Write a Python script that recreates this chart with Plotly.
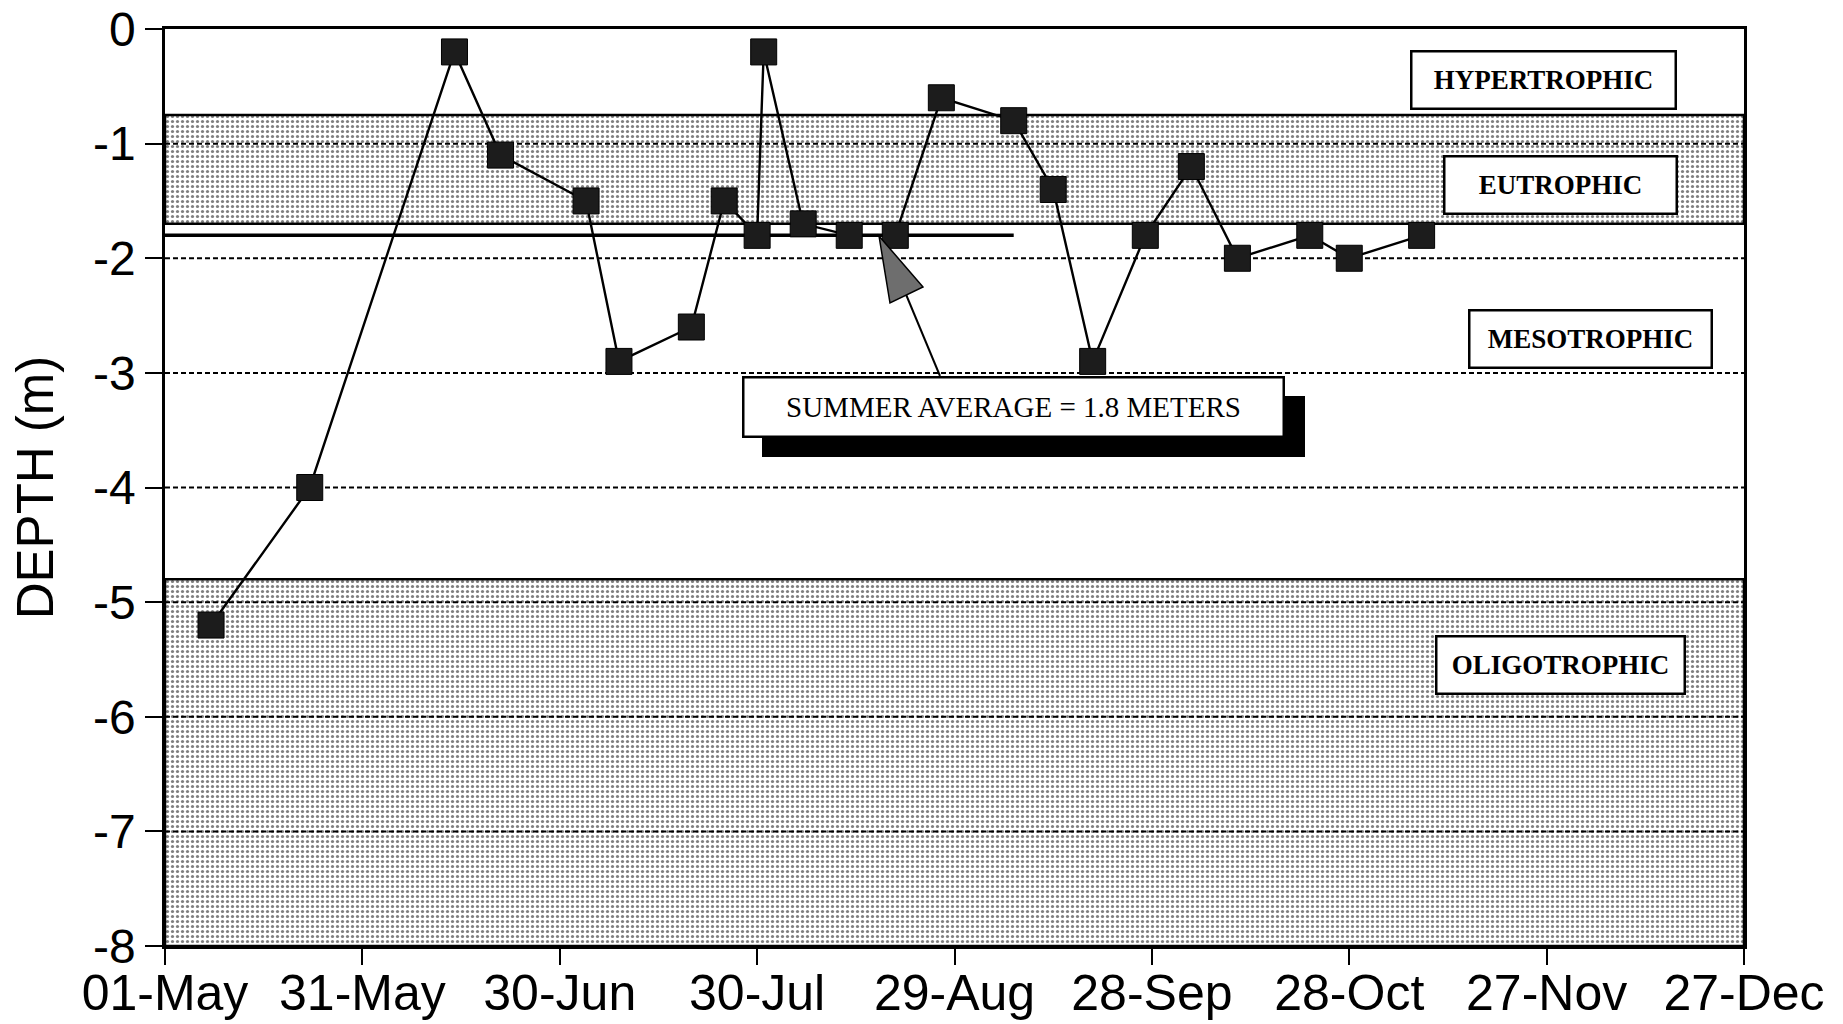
import plotly.graph_objects as go

# ---------------- data ----------------
dates = ["1990-05-08", "1990-05-23", "1990-06-14", "1990-06-21", "1990-07-04",
         "1990-07-09", "1990-07-20", "1990-07-25", "1990-07-30", "1990-07-31",
         "1990-08-06", "1990-08-13", "1990-08-20", "1990-08-27", "1990-09-07",
         "1990-09-13", "1990-09-19", "1990-09-27", "1990-10-04", "1990-10-11",
         "1990-10-22", "1990-10-28", "1990-11-08"]
depths = [-5.2, -4.0, -0.2, -1.1, -1.5,
          -2.9, -2.6, -1.5, -1.8, -0.2,
          -1.7, -1.8, -1.8, -0.6, -0.8,
          -1.4, -2.9, -1.8, -1.2, -2.0,
          -1.8, -2.0, -1.8]

x_range = ["1990-05-01", "1990-12-27"]
x_tickvals = ["1990-05-01", "1990-05-31", "1990-06-30", "1990-07-30", "1990-08-29",
              "1990-09-28", "1990-10-28", "1990-11-27", "1990-12-27"]
x_ticktext = ["01-May", "31-May", "30-Jun", "30-Jul", "29-Aug",
              "28-Sep", "28-Oct", "27-Nov", "27-Dec"]
y_tickvals = [0, -1, -2, -3, -4, -5, -6, -7, -8]
y_ticktext = ["0", "-1", "-2", "-3", "-4", "-5", "-6", "-7", "-8"]
grid_levels = [-1, -2, -3, -4, -5, -6, -7]

eutrophic_band = [-0.75, -1.7]
oligotrophic_band = [-4.8, -8.0]

summer_avg = -1.8
summer_avg_span = ["1990-05-01", "1990-09-07"]

zone_labels = ["HYPERTROPHIC", "EUTROPHIC", "MESOTROPHIC", "OLIGOTROPHIC"]
summer_label = "SUMMER AVERAGE = 1.8 METERS"

# ---------------- figure ----------------
fig = go.Figure()

dot_pattern = dict(shape=".", fgcolor="black", bgcolor="white", size=5, solidity=0.33)

for band in (eutrophic_band, oligotrophic_band):
    fig.add_trace(go.Scatter(
        x=[x_range[0], x_range[1], x_range[1], x_range[0], x_range[0]],
        y=[band[0], band[0], band[1], band[1], band[0]],
        fill="toself", mode="lines",
        line=dict(color="black", width=2.5),
        fillpattern=dot_pattern, fillcolor="white",
        hoverinfo="skip", showlegend=False))

for g in grid_levels:
    fig.add_trace(go.Scatter(
        x=x_range, y=[g, g], mode="lines",
        line=dict(color="black", width=2, dash="5px,3px"),
        hoverinfo="skip", showlegend=False))

fig.add_trace(go.Scatter(
    x=summer_avg_span, y=[summer_avg, summer_avg], mode="lines",
    line=dict(color="black", width=3.5),
    hoverinfo="skip", showlegend=False))

fig.add_trace(go.Scatter(
    x=dates, y=depths, mode="lines+markers",
    line=dict(color="black", width=2.4),
    marker=dict(symbol="square", size=26, color="#1c1c1c",
                line=dict(color="black", width=1)),
    showlegend=False))

# body margin is removed below, so the figure fills the window exactly
W, H = 1843, 1024
# plot area in screen pixels
L, R, T, B = 165, 1744, 29, 946


def px(x):
    return (x - L) / (R - L)


def py(y):
    return (B - y) / (B - T)


box_font = dict(family="Liberation Serif, Times New Roman, serif", size=27, color="black")
zone_boxes = [  # (center x px, center y px, width, height)
    (1543, 80, 262, 55),
    (1560, 185, 230, 55),
    (1590, 339, 240, 55),
    (1560, 665, 246, 55),
]
annotations = []
for label, (cx, cy, w, h) in zip(zone_labels, zone_boxes):
    annotations.append(dict(
        text="<b>" + label + "</b>", x=px(cx), y=py(cy), xref="paper", yref="paper",
        showarrow=False, bgcolor="white", bordercolor="black", borderwidth=2.5,
        borderpad=0, width=w, height=h, font=box_font,
        xanchor="center", yanchor="middle"))

annotations.append(dict(
    text=summer_label, x=px(1013), y=py(407), xref="paper", yref="paper",
    showarrow=False, bgcolor="white", bordercolor="black", borderwidth=2.5,
    borderpad=0, width=538, height=57,
    font=dict(family="Liberation Serif, Times New Roman, serif", size=29, color="black"),
    xanchor="center", yanchor="middle"))

shapes = [
    # shadow of summer box
    dict(type="rect", xref="paper", yref="paper",
         x0=px(762), x1=px(1305), y0=py(457), y1=py(396),
         fillcolor="black", line=dict(width=0), layer="above"),
    # arrow line
    dict(type="line", xref="paper", yref="paper",
         x0=px(940), y0=py(376), x1=px(905), y1=py(292),
         line=dict(color="black", width=2), layer="above"),
    # arrow head
    dict(type="path", xref="paper", yref="paper",
         path=f"M {px(879)},{py(236)} L {px(890)},{py(303)} L {px(923)},{py(287)} Z",
         fillcolor="#6e6e6e", line=dict(color="black", width=1.5), layer="above"),
]

sans = "Liberation Sans, Arial, Helvetica, sans-serif"

fig.update_layout(
    width=W, height=H,
    margin=dict(l=L, r=W - R, t=T, b=H - B, autoexpand=False),
    paper_bgcolor="white", plot_bgcolor="white",
    showlegend=False,
    annotations=annotations,
    shapes=shapes,
    xaxis=dict(
        type="date", range=x_range, tickvals=x_tickvals, ticktext=x_ticktext,
        showgrid=False, zeroline=False, automargin=False, ticklabeloverflow="allow",
        showline=True, linecolor="black", linewidth=2.5, mirror=True,
        ticks="outside", ticklen=16, tickwidth=1.5, tickcolor="black",
        tickfont=dict(family=sans, size=50, color="black"),
        ticklabelstandoff=-15,
    ),
    yaxis=dict(
        range=[-8, 0], tickvals=y_tickvals, ticktext=y_ticktext,
        showgrid=False, zeroline=False, automargin=False, ticklabeloverflow="allow",
        showline=True, linecolor="black", linewidth=2.5, mirror=True,
        ticks="outside", ticklen=17, tickwidth=1.5, tickcolor="black",
        tickfont=dict(family=sans, size=48, color="black"), ticklabelstandoff=0,
        title=dict(text="DEPTH (m)", font=dict(family=sans, size=51, color="black"), standoff=24),
    ),
)

fig.write_html("out.html",
               config={"displayModeBar": False},
               post_script="document.body.style.margin='0';document.body.style.overflow='hidden';")
